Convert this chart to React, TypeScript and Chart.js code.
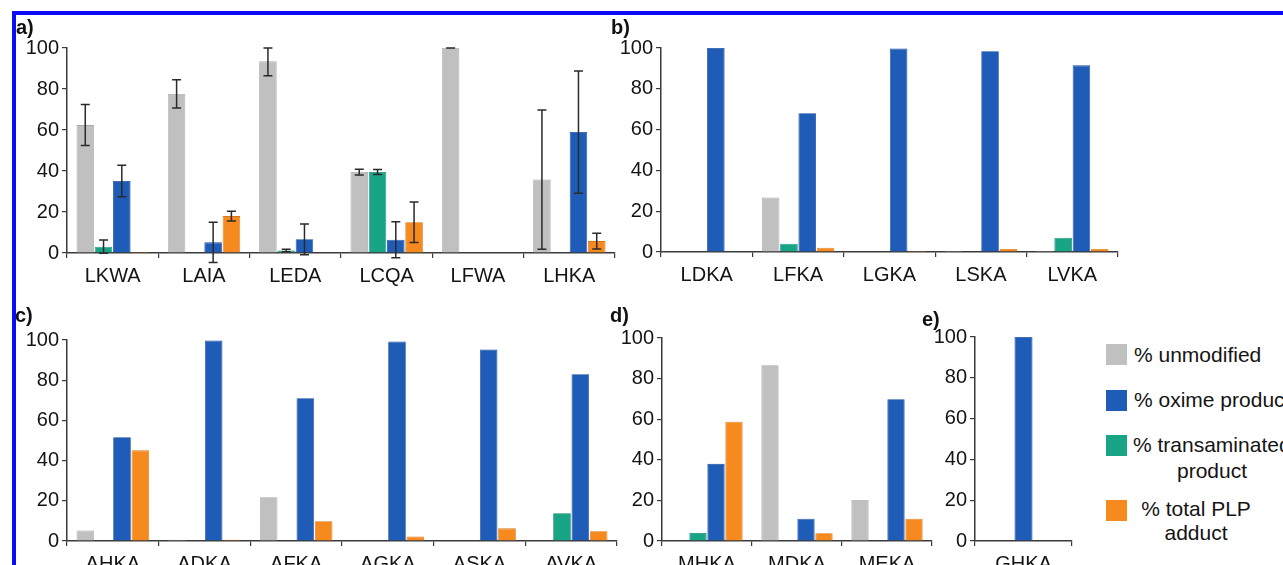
import React, { useEffect, useRef } from 'react';
import { Chart, registerables } from 'chart.js';

Chart.register(...registerables);

// ---------- Data ----------
const SERIES_NAMES = ['% unmodified', '% transaminated product', '% oxime product', '% total PLP adduct'];
const SERIES_COLORS = ['#c0c0c0', '#17a585', '#1e5cb8', '#f68a1e'];
const SERIES_BORDERS = ['#a9a9a9', '#12866c', '#184c9a', '#d9761a'];

const yTicks = [0, 20, 40, 60, 80, 100];

// panel a
const catsA = ['LKWA', 'LAIA', 'LEDA', 'LCQA', 'LFWA', 'LHKA'];
const aUnmod = [62.4, 77.6, 93.5, 39.5, 100, 35.8];
const aTrans = [3.1, 0, 1.2, 39.5, 0, 0.4];
const aOxime = [35.1, 5.2, 6.7, 6.5, 0, 59];
const aPlp = [0.5, 18, 0.3, 15, 0, 5.8];
const aUnmodErr = [10, 6.9, 7, 1.4, 0, 34];
const aTransErr = [3.2, null, 0.6, 1.2, null, null];
const aOximeErr = [7.7, 9.8, 7.5, 8.8, null, 29.8];
const aPlpErr = [null, 2.4, null, 9.9, null, 3.8];

// panel b
const catsB = ['LDKA', 'LFKA', 'LGKA', 'LSKA', 'LVKA'];
const bUnmod = [0, 26.7, 0, 0.5, 0.5];
const bTrans = [0, 4.1, 0, 0, 7];
const bOxime = [100, 68, 99.7, 98.4, 91.5];
const bPlp = [0, 2.1, 0.5, 1.5, 1.5];

// panel c
const catsC = ['AHKA', 'ADKA', 'AFKA', 'AGKA', 'ASKA', 'AVKA'];
const cUnmod = [5.2, 0.6, 21.8, 0, 0, 0];
const cTrans = [0, 0, 0, 0, 0, 13.8];
const cOxime = [51.6, 99.7, 71, 99.2, 95.3, 83];
const cPlp = [45.1, 0.6, 9.8, 2.2, 6.3, 4.9];

// panel d
const catsD = ['MHKA', 'MDKA', 'MEKA'];
const dUnmod = [0, 86.6, 20.2];
const dTrans = [4, 0, 0];
const dOxime = [38, 11, 69.8];
const dPlp = [58.8, 3.8, 11];

// panel e
const catsE = ['GHKA'];
const eUnmod = [null];
const eTrans = [null];
const eOxime = [100];
const ePlp = [null];

// ---------- Styling ----------
const FONT = '"Liberation Sans", Arial, Helvetica, sans-serif';
const TEXT = '#141414';
const AXIS = '#3a3a3a';

const errorBarPlugin = {
  id: 'errbars',
  afterDatasetsDraw(chart: any) {
    const ctx = chart.ctx;
    const ys = chart.scales.y;
    chart.data.datasets.forEach((ds: any, di: number) => {
      if (!ds.errors) return;
      const meta = chart.getDatasetMeta(di);
      meta.data.forEach((bar: any, i: number) => {
        const e = ds.errors[i];
        const v = ds.data[i];
        if (e == null || v == null) return;
        const hi = Math.min(ys.max, v + e);
        const lo = v - e;
        const x = bar.x;
        const yh = ys.getPixelForValue(hi);
        const yl = ys.getPixelForValue(lo);
        ctx.save();
        ctx.strokeStyle = '#2a2a2a';
        ctx.lineWidth = 1.5;
        ctx.beginPath();
        ctx.moveTo(x, yh);
        ctx.lineTo(x, yl);
        ctx.moveTo(x - 4.5, yh);
        ctx.lineTo(x + 4.5, yh);
        ctx.moveTo(x - 4.5, yl);
        ctx.lineTo(x + 4.5, yl);
        ctx.stroke();
        ctx.restore();
      });
    });
  },
};

type Box = { x: number; y: number; w: number; h: number };
type Area = { l: number; t: number; r: number; b: number };

function buildDatasets(series: (number | null)[][], errs?: (number | null)[][]) {
  return series.map((data, k) => ({
    label: SERIES_NAMES[k],
    data,
    backgroundColor: SERIES_COLORS[k],
    borderColor: SERIES_BORDERS[k],
    borderWidth: 0.8,
    errors: errs ? errs[k] : undefined,
  }));
}

function Panel(props: { box: Box; area: Area; labels: string[]; series: (number | null)[][]; errs?: (number | null)[][]; skipNull?: boolean }) {
  const ref = useRef<HTMLCanvasElement>(null);
  const { box, area, labels, series, errs, skipNull } = props;
  useEffect(() => {
    const chart = new Chart(ref.current as HTMLCanvasElement, {
      type: 'bar',
      data: { labels, datasets: buildDatasets(series, errs) as any },
      options: {
        animation: false,
        responsive: false,
        maintainAspectRatio: false,
        devicePixelRatio: 1,
        skipNull: !!skipNull,
        layout: { padding: { left: 0, top: area.t - box.y, right: box.x + box.w - area.r, bottom: 0 } },
        plugins: { legend: { display: false }, tooltip: { enabled: false } },
        datasets: { bar: { categoryPercentage: 0.8, barPercentage: 0.96, maxBarThickness: 18 } },
        scales: {
          x: {
            offset: true,
            grid: { display: true, drawOnChartArea: false, drawTicks: true, tickLength: 5, color: AXIS, lineWidth: 1.2, offset: true },
            border: { display: true, color: AXIS, width: 1.5 },
            ticks: { color: TEXT, font: { family: FONT, size: 20 }, padding: 6, maxRotation: 0, autoSkip: false },
            afterFit: (s: any) => { s.height = box.y + box.h - area.b; },
          },
          y: {
            min: 0,
            max: 100,
            afterBuildTicks: (s: any) => { s.ticks = yTicks.map((v) => ({ value: v })); },
            ticks: { color: TEXT, font: { family: FONT, size: 20 }, padding: 3 },
            grid: { display: true, drawOnChartArea: false, drawTicks: true, tickLength: 5, color: AXIS, lineWidth: 1.2 },
            border: { display: true, color: AXIS, width: 1.5 },
            afterFit: (s: any) => { s.width = area.l - box.x; },
          },
        },
      } as any,
      plugins: [errorBarPlugin],
    });
    return () => chart.destroy();
  }, []);
  return (
    <canvas
      ref={ref}
      width={box.w}
      height={box.h}
      style={{ position: 'absolute', left: box.x, top: box.y, width: box.w, height: box.h }}
    />
  );
}

const panelLabelStyle = (x: number, y: number): React.CSSProperties => ({
  position: 'absolute', left: x, top: y, fontFamily: FONT, fontWeight: 'bold', fontSize: 20, lineHeight: '20px', color: '#111',
});

const legendText: React.CSSProperties = {
  position: 'absolute', fontFamily: FONT, fontSize: 21, lineHeight: '24px', color: TEXT, whiteSpace: 'nowrap',
};

export default function App() {
  return (
    <div style={{ position: 'fixed', left: 0, top: 0, width: 1283, height: 565, overflow: 'hidden', background: '#fff' }}>
      {/* blue frame */}
      <div style={{ position: 'absolute', left: 12, top: 11, width: 1300, height: 600, borderTop: '4px solid #0b0bf5', borderLeft: '4px solid #0b0bf5' }} />

      <Panel box={{ x: 17, y: 17, w: 610, h: 285 }} area={{ l: 67, t: 48, r: 615, b: 253 }} labels={catsA}
        series={[aUnmod, aTrans, aOxime, aPlp]} errs={[aUnmodErr, aTransErr, aOximeErr, aPlpErr]} />
      <Panel box={{ x: 617, y: 17, w: 520, h: 285 }} area={{ l: 661, t: 48, r: 1118, b: 252 }} labels={catsB}
        series={[bUnmod, bTrans, bOxime, bPlp]} />
      <Panel box={{ x: 17, y: 305, w: 610, h: 290 }} area={{ l: 67, t: 340, r: 617, b: 541 }} labels={catsC}
        series={[cUnmod, cTrans, cOxime, cPlp]} />
      <Panel box={{ x: 612, y: 305, w: 330, h: 290 }} area={{ l: 662, t: 338, r: 932, b: 541 }} labels={catsD}
        series={[dUnmod, dTrans, dOxime, dPlp]} />
      <Panel box={{ x: 928, y: 305, w: 155, h: 290 }} area={{ l: 975, t: 337, r: 1072, b: 541 }} labels={catsE}
        series={[eUnmod, eTrans, eOxime, ePlp]} skipNull />

      <div style={panelLabelStyle(16, 17)}>a)</div>
      <div style={panelLabelStyle(611, 17)}>b)</div>
      <div style={panelLabelStyle(15, 305)}>c)</div>
      <div style={panelLabelStyle(610, 305)}>d)</div>
      <div style={panelLabelStyle(922, 309)}>e)</div>

      {/* legend */}
      <div style={{ position: 'absolute', left: 1106, top: 344, width: 21, height: 21, background: SERIES_COLORS[0] }} />
      <div style={{ ...legendText, left: 1134, top: 343 }}>{SERIES_NAMES[0]}</div>
      <div style={{ position: 'absolute', left: 1106, top: 390, width: 21, height: 21, background: SERIES_COLORS[2] }} />
      <div style={{ ...legendText, left: 1134, top: 388 }}>{SERIES_NAMES[2]}</div>
      <div style={{ position: 'absolute', left: 1106, top: 435, width: 21, height: 21, background: SERIES_COLORS[1] }} />
      <div style={{ ...legendText, left: 1133, top: 433 }}>% transaminated</div>
      <div style={{ ...legendText, left: 1162, top: 459, width: 100, textAlign: 'center' }}>product</div>
      <div style={{ position: 'absolute', left: 1106, top: 500, width: 21, height: 21, background: SERIES_COLORS[3] }} />
      <div style={{ ...legendText, left: 1136, top: 497, textAlign: 'center', width: 120 }}>% total PLP<br />adduct</div>
    </div>
  );
}
